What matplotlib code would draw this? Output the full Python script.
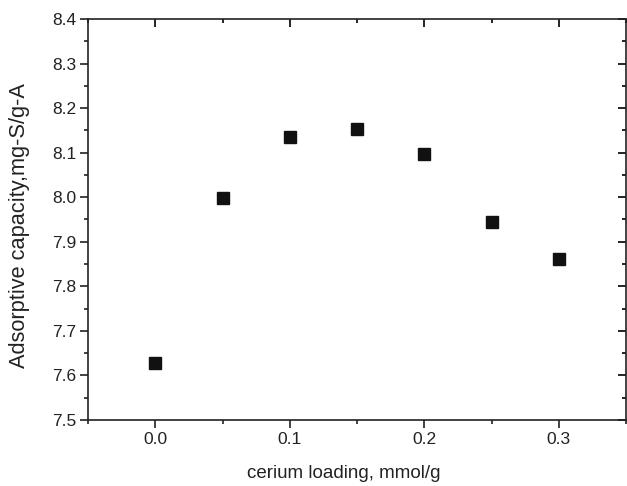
import matplotlib
matplotlib.use('Agg')
import matplotlib.pyplot as plt
from matplotlib.ticker import MultipleLocator

# cerium loading (mmol/g) vs adsorptive capacity (mg-S/g-A)
loading = [0.0, 0.05, 0.10, 0.15, 0.20, 0.25, 0.30]
capacity = [7.627, 7.998, 8.136, 8.152, 8.097, 7.945, 7.861]

plt.rcParams['font.family'] = ['Liberation Sans', 'DejaVu Sans']

fig = plt.figure(figsize=(6.27, 4.86), dpi=100)
ax = fig.add_axes([0.1404, 0.1358, 0.8580, 0.8252])

ax.plot(loading, capacity, linestyle='none', marker='s', markersize=8,
        color='#111111', markeredgecolor='#111111')

ax.set_xlim(-0.05, 0.35)
ax.set_ylim(7.5, 8.4)
ax.xaxis.set_major_locator(MultipleLocator(0.1))
ax.xaxis.set_minor_locator(MultipleLocator(0.05))
ax.yaxis.set_major_locator(MultipleLocator(0.1))
ax.yaxis.set_minor_locator(MultipleLocator(0.05))
ax.xaxis.set_major_formatter(plt.FormatStrFormatter('%.1f'))
ax.yaxis.set_major_formatter(plt.FormatStrFormatter('%.1f'))

# outward ticks on bottom/left, inward on top/right
ax.tick_params(which='both', direction='out', top=False, right=False, width=1.2,
               labelsize=12.5, colors='#222222')
ax.tick_params(which='major', length=5.5, pad=3)
ax.tick_params(which='minor', length=3)
sec_x = ax.secondary_xaxis('top')
sec_x.set_xticks([0.0, 0.1, 0.2, 0.3])
sec_x.xaxis.set_minor_locator(MultipleLocator(0.05))
sec_x.tick_params(which='both', direction='in', labeltop=False, width=1.2)
sec_x.tick_params(which='major', length=6)
sec_x.tick_params(which='minor', length=3)
sec_y = ax.secondary_yaxis('right')
sec_y.yaxis.set_major_locator(MultipleLocator(0.1))
sec_y.yaxis.set_minor_locator(MultipleLocator(0.05))
sec_y.tick_params(which='both', direction='in', labelright=False, width=1.2)
sec_y.tick_params(which='major', length=6)
sec_y.tick_params(which='minor', length=3)

for s in ax.spines.values():
    s.set_linewidth(1.2)
    s.set_color('#222222')
sec_x.spines['top'].set_visible(False)
sec_y.spines['right'].set_visible(False)

ax.set_xlabel('cerium loading, mmol/g', fontsize=13.5, color='#222222')
ax.set_ylabel('Adsorptive capacity,mg-S/g-A', fontsize=15.7, color='#222222')
ax.xaxis.set_label_coords(0.476, -0.113, transform=ax.transAxes)
ax.xaxis.label.set_va('top')
ax.yaxis.set_label_coords(-0.107, 0.484, transform=ax.transAxes)

fig.savefig('out.png', dpi=100)
